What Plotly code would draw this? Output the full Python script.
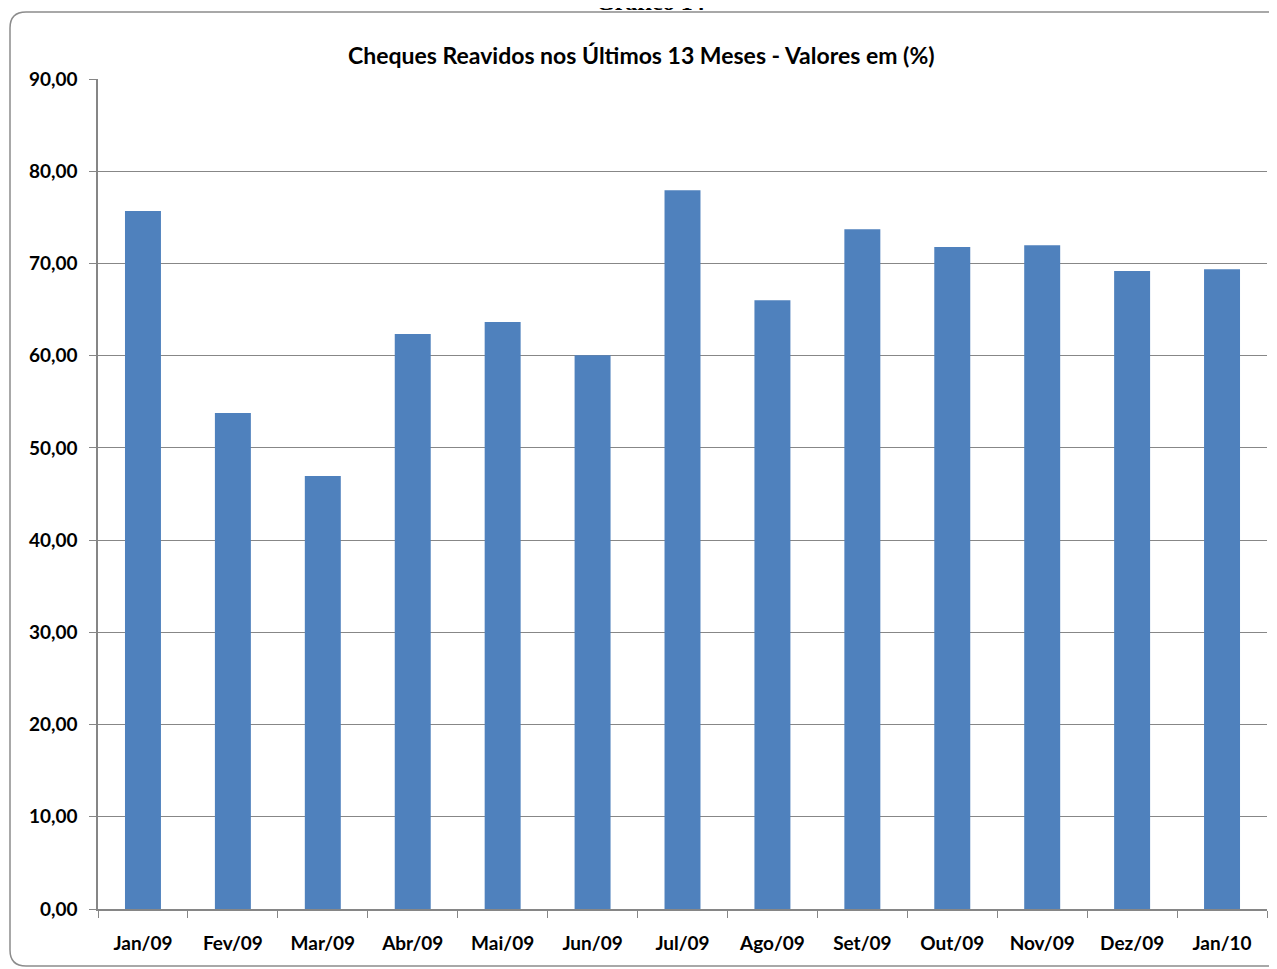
import plotly.graph_objects as go

categories = ["Jan/09", "Fev/09", "Mar/09", "Abr/09", "Mai/09", "Jun/09", "Jul/09",
              "Ago/09", "Set/09", "Out/09", "Nov/09", "Dez/09", "Jan/10"]
values = [75.70, 53.78, 46.95, 62.35, 63.65, 60.04, 77.93,
          66.00, 73.70, 71.79, 71.97, 69.18, 69.36]
y_ticks = [0, 10, 20, 30, 40, 50, 60, 70, 80, 90]

OFF = 8  # page body margin
W, H = 1277 - OFF, 969 - OFF
# plot area in screen pixels: x 98..1267, y 79..909
L, T = 98 - OFF, 79 - OFF
R = W - (1267 - OFF)
B = H - (909 - OFF)
pw, ph = W - L - R, H - T - B

def px(x):
    return (x - OFF - L) / pw

def py(y):
    return (H - B - (y - OFF)) / ph

fig = go.Figure()
fig.add_trace(go.Bar(x=categories, y=values, marker=dict(color="#4F81BD", line=dict(width=0))))

# rounded border
x0, x1, y0, y1, r = 10, 1290, 12, 966, 16
path = (f"M {px(x0+r)},{py(y0)} L {px(x1-r)},{py(y0)} Q {px(x1)},{py(y0)} {px(x1)},{py(y0+r)} "
        f"L {px(x1)},{py(y1-r)} Q {px(x1)},{py(y1)} {px(x1-r)},{py(y1)} "
        f"L {px(x0+r)},{py(y1)} Q {px(x0)},{py(y1)} {px(x0)},{py(y1-r)} "
        f"L {px(x0)},{py(y0+r)} Q {px(x0)},{py(y0)} {px(x0+r)},{py(y0)} Z")
fig.add_shape(type="path", path=path, xref="paper", yref="paper",
              line=dict(color="#8C8C8C", width=1.5), layer="below")

fig.add_annotation(text="<b>Gráfico 14</b>", x=px(650), y=py(2), xref="paper", yref="paper",
                   showarrow=False, xanchor="center", yanchor="middle",
                   font=dict(family="Liberation Serif, DejaVu Serif, serif", size=24, color="black"))

fig.add_annotation(text="<b>Cheques Reavidos nos Últimos 13 Meses - Valores em (%)</b>",
                   x=px(641), y=py(55), xref="paper", yref="paper", showarrow=False,
                   xanchor="center", yanchor="middle",
                   font=dict(family="Lato, sans-serif", size=23, color="black"))

fig.update_layout(
    width=W, height=H,
    margin=dict(l=L, r=R, t=T, b=B, pad=0),
    paper_bgcolor="white", plot_bgcolor="white",
    bargap=0.6, showlegend=False,
    font=dict(family="Lato, sans-serif", size=19, color="black"),
    xaxis=dict(showline=True, linecolor="#868686", linewidth=1.5, ticks="outside",
               tickson="boundaries", ticklen=7, tickcolor="#868686", tickwidth=1,
               tickfont=dict(family="Lato, sans-serif", size=19, color="black", weight="bold"),
               showgrid=False, ticklabelstandoff=16),
    yaxis=dict(range=[0, 90], tickvals=y_ticks, tickformat=".2f", showline=True,
               linecolor="#868686", linewidth=1.5, ticks="outside", ticklen=7,
               tickcolor="#868686", showgrid=True, gridcolor="#878787", gridwidth=1,
               tickfont=dict(family="Lato, sans-serif", size=19, color="black", weight="bold"),
               ticklabelstandoff=8, zeroline=False),
    separators=",.",
)

fig.write_html("out.html")
